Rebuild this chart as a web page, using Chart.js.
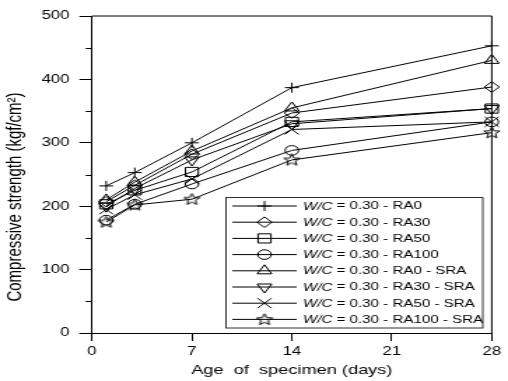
<!DOCTYPE html>
<html>
<head>
<meta charset="utf-8">
<script src="https://cdn.jsdelivr.net/npm/chart.js@4.4.0/dist/chart.umd.min.js"></script>
<style>
html,body{margin:0;padding:0;background:#fff;overflow:hidden}
</style>
</head>
<body>
<canvas id="Canvas" width="363" height="381" style="display:block;width:508px;height:381px"></canvas>
<script>
// the source figure is stretched sideways, so draw narrow and let css widen it
const days = [1, 3, 7, 14, 28];
const xTicks = [0, 7, 14, 21, 28];
const yMinor = [50, 150, 250, 350, 450];
const yTitle = "Compressive strength (kgf/cm\u00b2)";

const names = ["RA0", "RA30", "RA50", "RA100", "RA0 - SRA", "RA30 - SRA", "RA50 - SRA", "RA100 - SRA"];
const ra0     = [232, 253, 300, 387, 453];
const ra30    = [207, 233, 282, 347, 388];
const ra50    = [203, 225, 254, 333, 354];
const ra100   = [178, 203, 235, 288, 333];
const ra0Sra  = [210, 238, 287, 355, 430];
const ra30Sra = [200, 228, 273, 330, 354];
const ra50Sra = [195, 218, 243, 321, 333];
const ra100Sra= [175, 202, 211, 273, 316];

// five point star, chart.js "star" is an asterisk
function makeStar() {
  const cv = document.createElement("canvas");
  cv.width = 13; cv.height = 13;
  const g = cv.getContext("2d");
  g.strokeStyle = "#000"; g.lineWidth = 1;
  g.beginPath();
  for (let i = 0; i < 10; i++) {
    const r = i % 2 ? 2.6 : 6;
    const a = -Math.PI / 2 + i * Math.PI / 5;
    const px = 6.5 + r * Math.cos(a), py = 6.8 + r * Math.sin(a);
    if (i === 0) g.moveTo(px, py); else g.lineTo(px, py);
  }
  g.closePath();
  g.stroke();
  return cv;
}
const star = makeStar();

const series = [ra0, ra30, ra50, ra100, ra0Sra, ra30Sra, ra50Sra, ra100Sra];
const styles = [
  {s: "cross", r: 5, rot: 0},
  {s: "rectRot", r: 5.3, rot: 0},
  {s: "rect", r: 6.5, rot: 0},
  {s: "circle", r: 4.8, rot: 0},
  {s: "triangle", r: 6, rot: 0},
  {s: "triangle", r: 6, rot: 180},
  {s: "crossRot", r: 7, rot: 0},
  {s: star, r: 6, rot: 0}
];

const datasets = series.map((vals, i) => ({
  label: "W/C = 0.30 - " + names[i],
  data: vals.map((v, k) => ({x: days[k], y: v})),
  borderColor: "#000",
  borderWidth: 1,
  backgroundColor: "rgba(0,0,0,0)",
  pointStyle: styles[i].s,
  pointRadius: styles[i].r,
  pointRotation: styles[i].rot,
  pointBorderColor: "#000",
  pointBorderWidth: 1,
  pointBackgroundColor: "rgba(0,0,0,0)",
  tension: 0,
  clip: false
}));

const frame = {
  id: "frame",
  afterDraw(chart) {
    const c = chart.ctx, a = chart.chartArea;
    const y = chart.scales.y;
    c.save();
    c.strokeStyle = "#000";
    c.lineWidth = 1;
    c.beginPath();
    c.moveTo(a.left, a.top); c.lineTo(a.right, a.top); c.lineTo(a.right, a.bottom);
    yMinor.forEach(v => {
      const py = Math.round(y.getPixelForValue(v)) + 0.5;
      c.moveTo(a.left - 4.5, py); c.lineTo(a.left, py);
    });
    c.stroke();
    // y title sits a bit below the middle in the source
    c.translate(10.5, 197);
    c.rotate(-Math.PI / 2);
    c.fillStyle = "#000";
    c.font = "15px Arial, 'Liberation Sans'";
    c.textAlign = "center";
    c.textBaseline = "middle";
    c.fillText(yTitle, 0, 0);
    c.restore();
  }
};

const legendBox = {
  id: "legendBox",
  afterDraw(chart) {
    const c = chart.ctx;
    const left = 161.5, top = 197.5, w = 183.5, h = 130.5;
    c.save();
    c.strokeStyle = "#333";
    c.lineWidth = 1;
    c.fillStyle = "#fff";
    c.fillRect(left, top, w, h);
    c.strokeRect(left, top, w, h);
    chart.data.datasets.forEach((ds, i) => {
      const y = 206 + i * 16.2;
      c.strokeStyle = "#000";
      c.beginPath();
      c.moveTo(left + 4.5, y); c.lineTo(left + 50.5, y);
      c.stroke();
      c.fillStyle = "rgba(0,0,0,0)";
      Chart.helpers.drawPoint(c, {pointStyle: ds.pointStyle, radius: ds.pointRadius,
        rotation: ds.pointRotation, borderWidth: 1}, left + 27.5, y);
      c.fillStyle = "#000";
      c.textBaseline = "middle";
      let x = left + 55;
      c.font = "italic 10.8px Arial, 'Liberation Sans'";
      c.fillText("W/C", x, y + 0.5);
      x += c.measureText("W/C").width;
      c.font = "10.8px Arial, 'Liberation Sans'";
      c.fillText(" = 0.30 - " + names[i], x, y + 0.5);
    });
    c.restore();
  }
};

const myChart = new Chart(document.getElementById("Canvas").getContext("2d"), {
  type: "line",
  data: {datasets: datasets},
  options: {
    responsive: false,
    animation: false,
    devicePixelRatio: 1,
    layout: {padding: {top: 16, right: 11.6, bottom: 0, left: 0}},
    plugins: {legend: {display: false}, tooltip: {enabled: false}},
    scales: {
      x: {
        type: "linear", min: 0, max: 28,
        afterBuildTicks: s => { s.ticks = xTicks.map(v => ({value: v})); },
        afterFit: s => { s.height = 48; },
        grid: {drawOnChartArea: false, color: "#000", tickLength: 8},
        border: {color: "#000", width: 1},
        ticks: {color: "#000", padding: 3, maxRotation: 0, font: {family: "Arial, 'Liberation Sans'", size: 12}},
        title: {display: true, text: "Age  of  specimen (days)", color: "#000",
          padding: {top: 0, bottom: 3}, font: {family: "Arial, 'Liberation Sans'", size: 13}}
      },
      y: {
        min: 0, max: 500,
        ticks: {stepSize: 100, color: "#000", padding: 7, font: {family: "Arial, 'Liberation Sans'", size: 12}},
        afterFit: s => { s.width = 65.7; },
        grid: {drawOnChartArea: false, color: "#000", tickLength: 9},
        border: {color: "#000", width: 1}
      }
    }
  },
  plugins: [frame, legendBox]
});
</script>
</body>
</html>
